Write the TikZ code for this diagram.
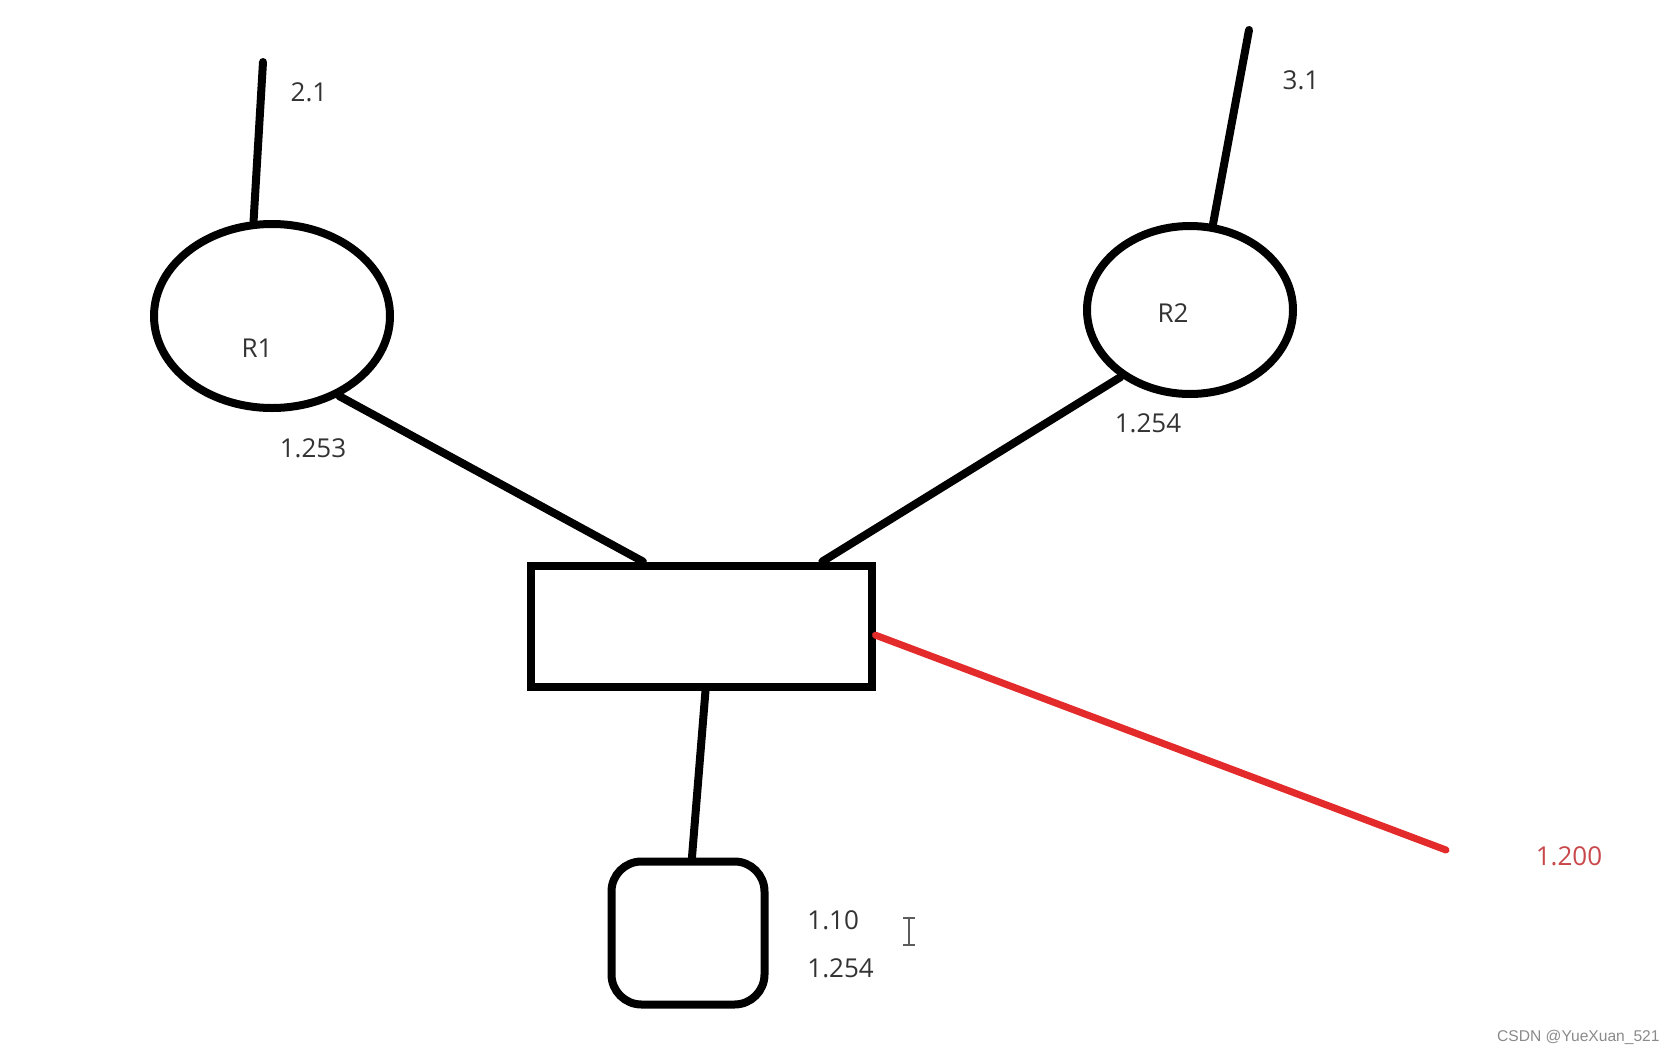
\documentclass[tikz,border=0pt]{standalone}
\usepackage{fontspec}
\setmainfont{Open Sans}
\newfontfamily\markfont{Liberation Sans}
\usetikzlibrary{shapes.geometric,positioning}
\definecolor{Ink}{HTML}{000000}
\definecolor{Label}{HTML}{333333}
\definecolor{Hot}{HTML}{E42B2B}
\definecolor{HotText}{HTML}{C9484B}
\definecolor{Mark}{HTML}{8A8A8A}
\tikzset{
  router/.style={ellipse,draw=Ink,line width=4pt,inner sep=0pt},
  switchbox/.style={rectangle,draw=Ink,line width=4pt,minimum width=170.5pt,minimum height=60.5pt,inner sep=0pt},
  hostbox/.style={rectangle,rounded corners=15pt,draw=Ink,line width=4pt,minimum width=76.5pt,minimum height=71.5pt,inner sep=0pt},
  wire/.style={draw=Ink,line width=4pt,line cap=round},
  hotwire/.style={wire,draw=Hot,line width=3.5pt},
  lab/.style={font=\fontsize{13}{15}\selectfont,text=Label,inner sep=1pt},
  hotlab/.style={lab,text=HotText},
  marklab/.style={font=\markfont\fontsize{7.8}{9}\selectfont,text=Mark,inner sep=0pt}
}

\begin{document}
\begin{tikzpicture}[x=0.5pt,y=-0.5pt]
  \useasboundingbox (0,0) rectangle (1677,1055);
  % routers, switch and host
  \node[router,minimum width=118pt,minimum height=92pt] (r1) at (272,316) {};
  \node[router,minimum width=103pt,minimum height=84pt] (r2) at (1190,310) {};
  \node[switchbox] (sw) at (701,626) {};
  \node[hostbox] (pc) at (688,933) {};
  \coordinate (r1up) at (263,62);
  \coordinate (r2up) at (1249,30);
  \coordinate (new) at (1446,850);
  % links
  \draw[wire] (r1up)--(r1.101);
  \draw[wire] (r2up)--(r2.75);
  \draw[wire] (r1.-50)--(sw.132);
  \draw[wire] (r2.224)--(sw.28);
  \draw[wire] (sw.-86)--(pc.87);
  \draw[hotwire] (sw.-3)--(new);
  % addresses
  \node[lab] (r1name) at (257,348) {R1};
  \node[lab] (r2name) at (1173,313) {R2};
  \node[lab] (r1net) at (309,92) {2.1};
  \node[lab] (r2net) at (1301,80) {3.1};
  \node[lab] (r1if) at (313,448) {1.253};
  \node[lab] (r2if) at (1148,423) {1.254};
  \node[lab,anchor=west] (pcip) at (805,920) {1.10};
  \node[lab,anchor=west] (pcgw) at (805,968) {1.254};
  \node[hotlab] (newip) at (1569,856) {1.200};
  % text cursor
  \draw[Label!80,line width=1pt] (909,918)--(909,945) (903,918)--(915,918) (903,945)--(915,945);
  \node[marklab,anchor=east] (wm) at (1660,1037) {CSDN @YueXuan\_521};
\end{tikzpicture}
\end{document}
